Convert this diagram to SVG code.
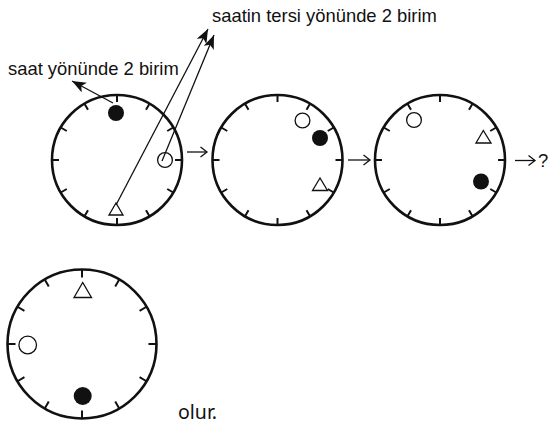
<svg xmlns="http://www.w3.org/2000/svg" xmlns:xlink="http://www.w3.org/1999/xlink" width="555" height="424" viewBox="0 0 555 424">
<style>
.rim{fill:none;stroke:#111;stroke-width:2.6;vector-effect:non-scaling-stroke}
.tick{fill:none;stroke:#111;stroke-width:2;vector-effect:non-scaling-stroke}
.open{fill:#fff;stroke:#111;stroke-width:1.3}
.full{fill:#111;stroke:none}
.con{fill:none;stroke:#111;stroke-width:1.3}
.lbl{font-family:"Liberation Sans",Arial,sans-serif;font-size:18.4px;fill:#111}
.olur{font-family:"Noto Sans","Open Sans",sans-serif;font-size:19.5px;fill:#111}
</style>
<defs>
<g id="face">
<circle class="rim" r="65"/>
<path class="tick" d="M0-58V-65M29-50.23L32.5-56.29M50.23-29L56.29-32.5M58 0H65M50.23 29L56.29 32.5M29 50.23L32.5 56.29M0 58V65M-29 50.23L-32.5 56.29M-50.23 29L-56.29 32.5M-58 0H-65M-50.23-29L-56.29-32.5M-29-50.23L-32.5-56.29"/>
</g>
<marker id="head" markerUnits="userSpaceOnUse" markerWidth="16" markerHeight="13" refX="14" refY="5.5" orient="auto">
<path d="M0,0 L14,5.5 L0,11 L3.5,5.5 z" fill="#111"/>
</marker>
<marker id="open" markerUnits="userSpaceOnUse" markerWidth="10" markerHeight="12" refX="8" refY="6" orient="auto">
<path d="M1.5,1 L8,6 L1.5,11" fill="none" stroke="#111" stroke-width="1.3"/>
</marker>
</defs>

<g id="clock1">
<use xlink:href="#face" transform="translate(117,160)"/>
<circle class="full" cx="116" cy="113" r="8"/>
<circle class="open" cx="165" cy="160" r="7.4"/>
<polygon class="open" points="116,203 109,215 123,215"/>
</g>

<g id="clock2">
<use xlink:href="#face" transform="translate(277.5,160)"/>
<circle class="open" cx="302.5" cy="120.5" r="7.4"/>
<circle class="full" cx="320" cy="138" r="8"/>
<polygon class="open" points="320,178 312.5,190.5 327.5,190.5"/>
</g>

<g id="clock3">
<use xlink:href="#face" transform="translate(440,160)"/>
<circle class="open" cx="414" cy="120" r="7.4"/>
<polygon class="open" points="483.3,130.5 476,143 491,143"/>
<circle class="full" cx="481" cy="181.5" r="8"/>
</g>

<g id="clock4">
<use xlink:href="#face" transform="translate(82,344) scale(1.146)"/>
<polygon class="open" points="82.7,282.5 74,297.5 91.5,297.5"/>
<circle class="open" cx="27.7" cy="345" r="8.8"/>
<circle class="full" cx="82.7" cy="396" r="9"/>
</g>

<g id="connectors">
<line class="con" x1="113" y1="103" x2="72" y2="81" marker-end="url(#head)"/>
<line class="con" x1="116" y1="205" x2="208" y2="29" marker-end="url(#head)"/>
<line class="con" x1="162" y1="161" x2="214" y2="35" marker-end="url(#head)"/>
<line class="con" x1="187" y1="152" x2="207" y2="152" marker-end="url(#open)"/>
<line class="con" x1="348" y1="160" x2="370" y2="160" marker-end="url(#open)"/>
<line class="con" x1="515" y1="160.5" x2="535" y2="160.5" marker-end="url(#open)"/>
</g>

<g id="labels">
<text class="lbl" x="8" y="75">saat yönünde 2 birim</text>
<text class="lbl" x="212" y="21.5">saatin tersi yönünde 2 birim</text>
<text class="lbl" x="538" y="166.5">?</text>
<text class="olur" x="178" y="419">olur.</text>
</g>
</svg>
